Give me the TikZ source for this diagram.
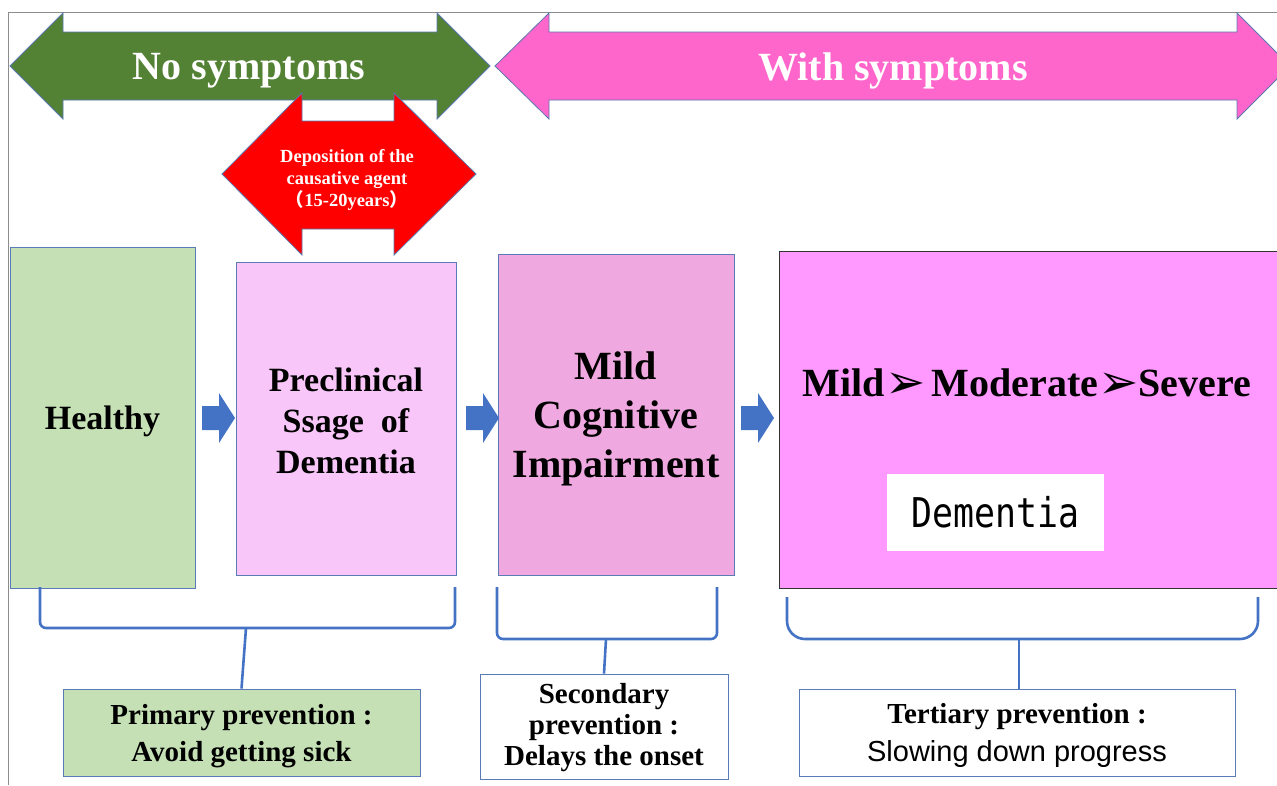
\documentclass[tikz,border=0pt]{standalone}
\usepackage{fontspec}
\usepackage{graphicx}
\setmainfont{Liberation Serif}
\newfontfamily\arialf{Liberation Sans}
\newfontfamily\monof{DejaVu Sans Mono}
\newfontfamily\dejavu{DejaVu Sans}
\newfontfamily\cjk{Noto Sans CJK SC}
\usetikzlibrary{calc}
\definecolor{arrgreen}{HTML}{548235}
\definecolor{arrpink}{HTML}{FF66CC}
\definecolor{arrred}{HTML}{FF0000}
\definecolor{outl}{HTML}{5A78B0}
\definecolor{healthyfill}{HTML}{C5E0B4}
\definecolor{prefill}{HTML}{F9C6F9}
\definecolor{mcifill}{HTML}{EFA8E0}
\definecolor{demfill}{HTML}{FF99FF}
\definecolor{blockblue}{HTML}{4472C4}
\definecolor{boxline}{HTML}{5A7BB5}
\definecolor{frame}{HTML}{8C8C8C}
\tikzset{
  bigarrow/.style={draw=outl, line width=0.8pt, line join=miter},
  stagebox/.style={draw=boxline, line width=0.9pt, inner sep=0pt},
  prevbox/.style={draw=boxline, line width=0.9pt, inner sep=0pt},
  txt/.style={inner sep=0pt, align=center},
  bracket/.style={draw=blockblue, line width=2.6pt},
  bigtext/.style={text=white, font=\fontsize{40}{40}\selectfont\bfseries},
}
\newcommand\blockarrowat[2]{\fill[blockblue] (#1,#2) ++(0,-12) -- ++(17,0) -- ++(0,-13) -- ++(16,25) -- ++(-16,25) -- ++(0,-13) -- ++(-17,0) -- cycle;}
\newcommand\arrowglyph{\raisebox{-2pt}{\dejavu\fontsize{48}{48}\selectfont ➢}}
\begin{document}
\begin{tikzpicture}[x=1pt,y=-1pt]
\clip (0,0) rectangle (1277,785);
\fill[white] (0,0) rectangle (1277,785);
\draw[frame, line width=1pt] (8,785) -- (8,12) -- (1277,12);
% big double arrows
\draw[bigarrow, fill=arrgreen] (10,66) -- (63,13) -- (63,32) -- (437,32) -- (437,13) -- (490,66) -- (437,119) -- (437,100) -- (63,100) -- (63,119) -- cycle;
\node[bigtext] (nosym) at (249,71) {No symptoms};
\draw[bigarrow, fill=arrpink] (495,66) -- (549,13) -- (549,32) -- (1237,32) -- (1237,13) -- (1290,66) -- (1237,119) -- (1237,100) -- (549,100) -- (549,119) -- cycle;
\node[bigtext] (withsym) at (893,71) {With symptoms};
% red arrow
\draw[bigarrow, fill=arrred] (222,174) -- (302,93) -- (302,121) -- (394,121) -- (394,93) -- (476,174) -- (394,255) -- (394,229) -- (302,229) -- (302,255) -- cycle;
\node[text=white, align=center, font=\fontsize{18.5}{22}\selectfont\bfseries] (depo) at (347,180) {Deposition of the\\causative agent\\{\cjk （}15-20years{\cjk ）}};
% stage boxes
\node[stagebox, fill=healthyfill, minimum width=185pt, minimum height=341pt] (healthy) at (102.5,417.5) {};
\node[txt, font=\fontsize{34}{41}\selectfont\bfseries] (healthytxt) at ($(healthy.center)+(0,4)$) {Healthy};
\node[stagebox, fill=prefill, minimum width=220pt, minimum height=313pt] (pre) at (346,418.5) {};
\node[txt, font=\fontsize{34}{41}\selectfont\bfseries] (pretxt) at ($(pre.center)+(0,2)$) {Preclinical\\Ssage\ \ of\\Dementia};
\node[stagebox, fill=mcifill, minimum width=236pt, minimum height=321pt] (mci) at (616,414.5) {};
\node[txt, font=\fontsize{40}{49}\selectfont\bfseries] (mcitxt) at ($(mci.center)+(0,4)$) {Mild\\Cognitive\\Impairment};
\node[draw=black!80, line width=1.2pt, fill=demfill, minimum width=520pt, minimum height=337pt, anchor=north west, inner sep=0pt] (dem) at (779,251) {};
\node[font=\fontsize{40}{40}\selectfont\bfseries, inner sep=0pt, anchor=base] (stages) at (1027,396) {Mild\arrowglyph\,Moderate\arrowglyph Severe};
\node[fill=white, minimum width=217pt, minimum height=77pt, inner sep=0pt] (demlabel) at (995.5,512.5) {\scalebox{0.85}[1]{\monof\fontsize{41}{41}\selectfont Dementia}};
% block arrows
\blockarrowat{202}{418}
\blockarrowat{466}{418}
\blockarrowat{741}{418}
% prevention boxes
\node[prevbox, fill=healthyfill, minimum width=357pt, minimum height=87pt] (prim) at (241.5,732.5) {};
\node[txt, font=\fontsize{29}{37}\selectfont\bfseries] (primtxt) at ($(prim.center)+(0,4)$) {Primary prevention :\\Avoid getting sick};
\node[prevbox, fill=white, minimum width=248pt, minimum height=105pt] (sec) at (604,726.5) {};
\node[txt, font=\fontsize{29}{31}\selectfont\bfseries] (sectxt) at ($(sec.center)+(0,1)$) {Secondary\\prevention :\\Delays the onset};
\node[prevbox, fill=white, minimum width=436pt, minimum height=87pt] (ter) at (1017,732.5) {};
\node[txt, font=\fontsize{29}{38}\selectfont] (tertxt) at ($(ter.center)+(0,3)$) {{\bfseries Tertiary prevention :}\\{\arialf Slowing down progress}};
% brackets
\draw[bracket, rounded corners=6pt] (40,587) -- (40,628) -- (455,628) -- (455,587);
\draw[bracket, rounded corners=6pt] (497,587) -- (497,639) -- (717,639) -- (717,587);
\draw[bracket, rounded corners=18pt] (787,597) -- (787,639) -- (1258,639) -- (1258,597);
\coordinate (s1) at (246,628);
\coordinate (s2) at (606,639);
\coordinate (s3) at (1019,639);
\draw[bracket] (s1) -- (prim.north);
\draw[bracket] (s2) -- (sec.north);
\draw[bracket] (s3) -- (s3 |- ter.north);
\end{tikzpicture}
\end{document}
